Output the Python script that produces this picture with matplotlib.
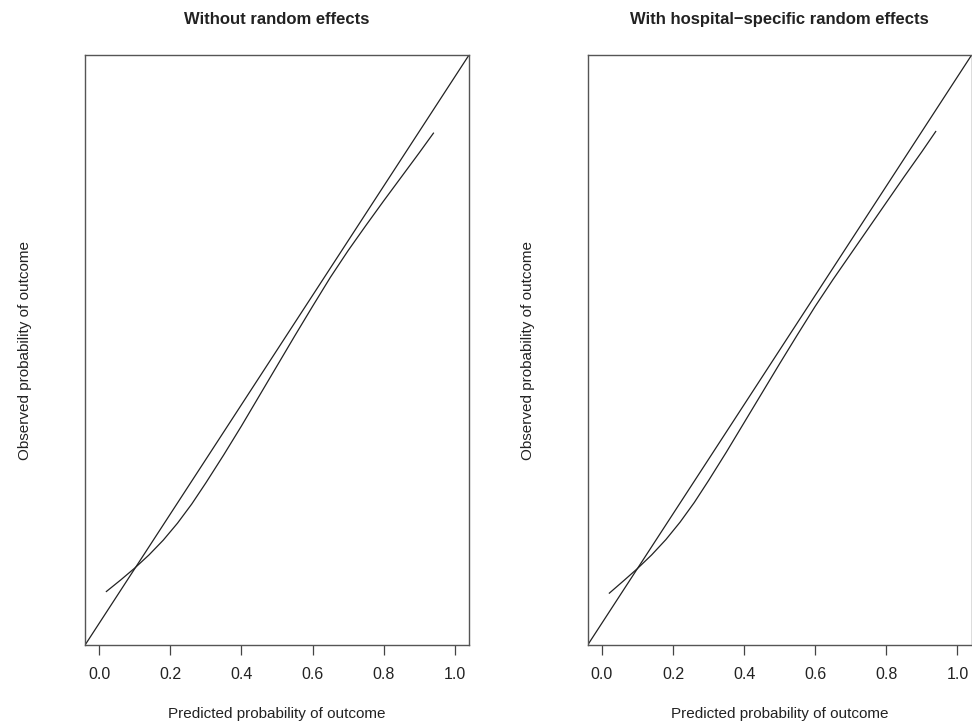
import matplotlib
matplotlib.use('Agg')
import matplotlib.pyplot as plt

# calibration curves
pred_fixed = [0.02, 0.06, 0.10, 0.14, 0.18, 0.22, 0.26, 0.30, 0.35, 0.40, 0.45,
              0.50, 0.55, 0.60, 0.65, 0.70, 0.75, 0.80, 0.85, 0.90, 0.94]
obs_fixed = [0.058, 0.079, 0.101, 0.125, 0.152, 0.183, 0.218, 0.257, 0.308, 0.361, 0.416,
             0.471, 0.526, 0.580, 0.633, 0.682, 0.728, 0.773, 0.817, 0.861, 0.897]

pred_random = [0.021, 0.06, 0.10, 0.14, 0.18, 0.22, 0.26, 0.30, 0.35, 0.40, 0.45,
               0.50, 0.55, 0.60, 0.65, 0.70, 0.75, 0.80, 0.85, 0.90, 0.939]
obs_random = [0.055, 0.077, 0.100, 0.125, 0.153, 0.185, 0.221, 0.261, 0.313, 0.367, 0.421,
              0.475, 0.528, 0.580, 0.629, 0.676, 0.723, 0.770, 0.817, 0.863, 0.900]

titles = ['Without random effects', 'With hospital\u2212specific random effects']
x_ticks = [0.0, 0.2, 0.4, 0.6, 0.8, 1.0]
x_tick_labels = ['0.0', '0.2', '0.4', '0.6', '0.8', '1.0']

plt.rcParams['font.family'] = ['Liberation Sans', 'DejaVu Sans']

fig = plt.figure(figsize=(9.72, 7.25), dpi=100)
ax_fixed = fig.add_axes([0.0875, 0.1103, 0.395, 0.8138])
ax_random = fig.add_axes([0.6046, 0.1103, 0.395, 0.8138])

for ax, pred, obs, title in [(ax_fixed, pred_fixed, obs_fixed, titles[0]),
                             (ax_random, pred_random, obs_random, titles[1])]:
    ax.axline((0, 0), (1, 1), color='#222222', lw=0.9)
    ax.plot(pred, obs, color='#222222', lw=0.9)
    ax.set_xlim(-0.04, 1.04)
    ax.set_ylim(-0.04, 1.04)
    ax.set_xticks(x_ticks)
    ax.set_xticklabels(x_tick_labels, fontsize=11.5, color='#222222')
    ax.set_yticks([])
    ax.tick_params(axis='x', length=7, width=0.9, pad=9, color='#444444')
    for sp in ax.spines.values():
        sp.set_color('#555555')
        sp.set_linewidth(1.0)
    ax.set_title(title, fontsize=12, fontweight='bold', pad=22, color='#222222')
    ax.set_xlabel('Predicted probability of outcome', fontsize=11, labelpad=18, color='#222222')
    ax.set_ylabel('Observed probability of outcome', fontsize=11, labelpad=38, color='#222222')

fig.savefig('out.png', dpi=100)
